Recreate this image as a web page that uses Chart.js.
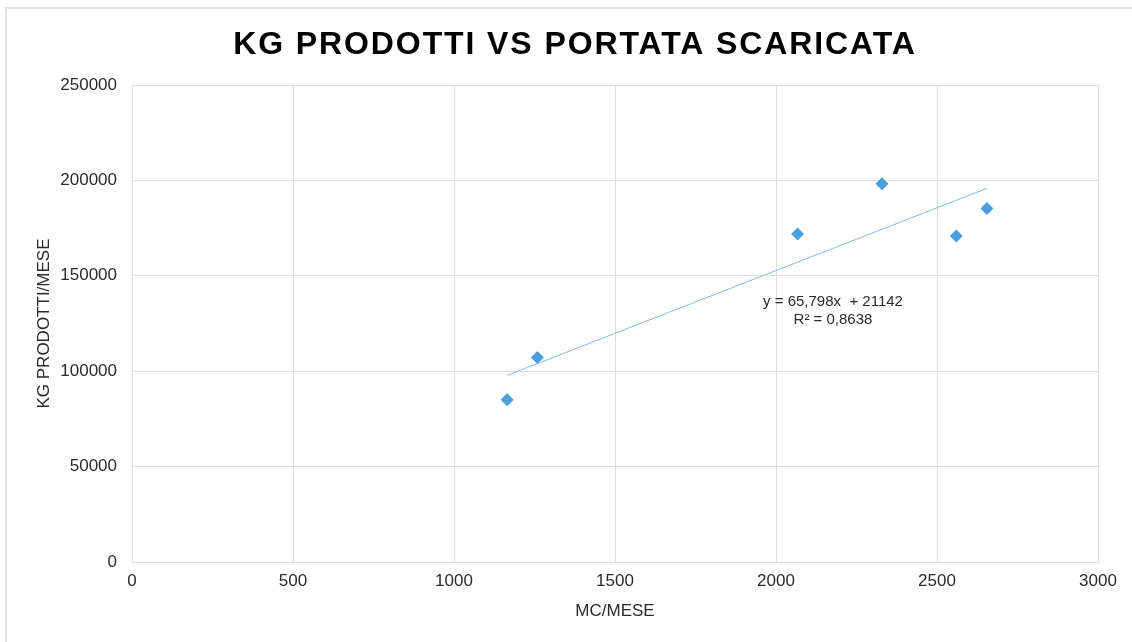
<!DOCTYPE html>
<html>
<head>
<meta charset="utf-8">
<script src="https://cdn.jsdelivr.net/npm/chart.js@4"></script>
<style>
    html, body { margin: 0; padding: 0; background: #fff; overflow: hidden; }
    #frame {
        position: absolute; left: 5px; top: 7px; width: 1200px; height: 700px;
        border-top: 2px solid #e3e3e3; border-left: 2px solid #e3e3e3;
    }
    #wrap { position: absolute; left: 0; top: 0; width: 1132px; height: 642px; }
</style>
</head>
<body>
<div id="frame"></div>
<div id="wrap"><canvas id="grafico" width="1132" height="642"></canvas></div>
<script>
// dati
const mcMese = [1165, 1259, 2067, 2329, 2560, 2655];
const kgMese = [85069, 107118, 171875, 198264, 170833, 185243];

// linea di tendenza (come riportata nell'etichetta)
const pendenza = 65.798;
const intercetta = 21142;
const etichettaTendenza = ['y = 65,798x  + 21142', 'R² = 0,8638'];
const posEtichetta = { x: 2177, y: 136400 };

const titolo = 'KG PRODOTTI VS PORTATA SCARICATA';
const titoloX = 'MC/MESE';
const titoloY = 'KG PRODOTTI/MESE';

document.addEventListener('DOMContentLoaded', function () {
    const ctx = document.getElementById('grafico').getContext('2d');
    const FONT = "'Liberation Sans', Arial, sans-serif";
    const TESTO = '#2b2b2b';

    const punti = mcMese.map((x, i) => ({ x: x, y: kgMese[i] }));
    const xMin = Math.min(...mcMese);
    const xMax = Math.max(...mcMese);
    const tendenza = [
        { x: xMin, y: pendenza * xMin + intercetta },
        { x: xMax, y: pendenza * xMax + intercetta }
    ];

    const titoloPlugin = {
        id: 'titoloSpaziato',
        afterDraw(chart) {
            const c = chart.ctx;
            c.save();
            c.font = 'bold 32px ' + FONT;
            c.letterSpacing = '1.9px';
            c.fillStyle = '#000';
            c.textAlign = 'center';
            c.textBaseline = 'alphabetic';
            c.fillText(titolo, 575, 54);
            c.restore();
        }
    };

    const etichettaPlugin = {
        id: 'etichettaTendenza',
        afterDatasetsDraw(chart) {
            const c = chart.ctx;
            const px = chart.scales.x.getPixelForValue(posEtichetta.x);
            const py = chart.scales.y.getPixelForValue(posEtichetta.y);
            c.save();
            c.font = '15px ' + FONT;
            c.fillStyle = TESTO;
            c.textAlign = 'center';
            c.textBaseline = 'middle';
            etichettaTendenza.forEach((riga, i) => c.fillText(riga, px, py + i * 18));
            c.restore();
        }
    };

    new Chart(ctx, {
        type: 'scatter',
        data: {
            datasets: [{
                label: 'KG prodotti',
                data: punti,
                pointStyle: 'rectRot',
                pointRadius: 6.5,
                pointHoverRadius: 6.5,
                backgroundColor: '#4b9fdd',
                borderColor: '#4b9fdd',
                borderWidth: 0
            }, {
                label: 'Lineare',
                type: 'line',
                data: tendenza,
                borderColor: '#80bce9',
                borderWidth: 1,
                pointRadius: 0,
                fill: false
            }]
        },
        options: {
            responsive: false,
            animation: false,
            layout: { padding: { top: 85, right: 34, bottom: 0, left: 0 } },
            scales: {
                x: {
                    type: 'linear',
                    min: 0,
                    max: 3000,
                    afterFit: s => { s.height = 80; },
                    ticks: {
                        stepSize: 500,
                        padding: 9,
                        color: TESTO,
                        font: { family: FONT, size: 17 },
                        callback: v => String(v)
                    },
                    grid: { color: '#dedede', drawTicks: false },
                    border: { color: '#dedede' },
                    title: {
                        display: true,
                        text: titoloX,
                        color: TESTO,
                        font: { family: FONT, size: 17 },
                        padding: { top: 0, bottom: 20 }
                    }
                },
                y: {
                    min: 0,
                    max: 250000,
                    afterFit: s => { s.width = 132; },
                    ticks: {
                        stepSize: 50000,
                        padding: 15,
                        color: TESTO,
                        font: { family: FONT, size: 17 },
                        callback: v => String(v)
                    },
                    grid: { color: '#dedede', drawTicks: false },
                    border: { color: '#dedede' },
                    title: {
                        display: true,
                        text: titoloY,
                        color: TESTO,
                        font: { family: FONT, size: 17 },
                        padding: { top: 34, bottom: 0 }
                    }
                }
            },
            plugins: {
                legend: { display: false },
                tooltip: { enabled: false },
                title: { display: false }
            }
        },
        plugins: [titoloPlugin, etichettaPlugin]
    });
});
</script>
</body>
</html>
